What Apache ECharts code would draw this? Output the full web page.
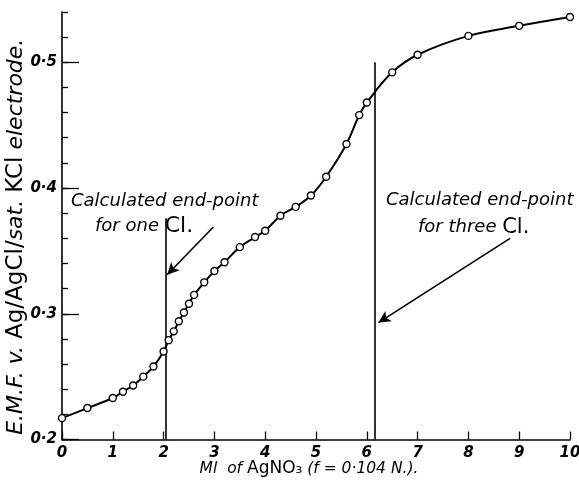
<!DOCTYPE html>
<html>
<head>
<meta charset="utf-8">
<script src="https://cdn.jsdelivr.net/npm/echarts@6/dist/echarts.min.js"></script>
<style>html,body{margin:0;padding:0;background:#fff;}#c{width:579px;height:482px;}</style>
</head>
<body>
<div id="c"></div>
<script>
// ml of AgNO3 added
const mlValues = [0, 0.5, 1.0, 1.2, 1.4, 1.6, 1.8, 2.0, 2.1, 2.2, 2.3, 2.4, 2.5, 2.6, 2.8, 3.0, 3.2, 3.5, 3.8, 4.0, 4.3, 4.6, 4.9, 5.2, 5.6, 5.85, 6.0, 6.5, 7.0, 8.0, 9.0, 10.0];
// E.M.F. (volts)
const emfValues = [0.217, 0.225, 0.233, 0.238, 0.243, 0.250, 0.258, 0.270, 0.279, 0.286, 0.294, 0.301, 0.308, 0.315, 0.325, 0.334, 0.341, 0.353, 0.361, 0.366, 0.378, 0.385, 0.394, 0.409, 0.435, 0.458, 0.468, 0.492, 0.506, 0.521, 0.529, 0.536];
const yMajorTicks = [0.2, 0.3, 0.4, 0.5];
const xTickValues = [0, 1, 2, 3, 4, 5, 6, 7, 8, 9, 10];
// calculated end-points: [ml, top of drawn line]
const endPointOne = [2.04, 0.376];
const endPointThree = [6.16, 0.500];
// arrows: [from, to]
const arrowOne = [[2.98, 0.369], [2.07, 0.331]];
const arrowThree = [[8.82, 0.360], [6.23, 0.293]];

const FONT = '"DejaVu Sans", sans-serif';
const chart = echarts.init(document.getElementById('c'), null, {renderer: 'canvas'});
const fmt = v => (Math.round(v * 10) / 10).toFixed(1).replace('.', '·');

const option = {
  animation: false,
  backgroundColor: '#fff',
  grid: {left: 62, right: 9, top: 12, bottom: 42.5, containLabel: false, outerBoundsMode: 'none'},
  xAxis: {
    type: 'value', min: 0, max: 10, interval: 1,
    name: '{i|Ml  of }{n|AgNO₃}{i| (f = 0·104 N.).}',
    nameLocation: 'middle', nameGap: 21, nameMoveOverlap: false,
    nameTextStyle: {
      padding: [0, 14, 0, 0],
      rich: {
        i: {fontFamily: FONT, fontStyle: 'italic', fontSize: 15.5, color: '#000'},
        n: {fontFamily: FONT, fontSize: 17, color: '#000'}
      }
    },
    axisLine: {lineStyle: {color: '#000', width: 1.6}},
    axisTick: {inside: true, length: 8, lineStyle: {color: '#000', width: 1.3}},
    axisLabel: {
      customValues: xTickValues,
      fontFamily: FONT, fontStyle: 'italic', fontWeight: 'bold', fontSize: 15, color: '#000', margin: 6,
      formatter: v => String(v)
    },
    splitLine: {show: false}
  },
  yAxis: [{
    type: 'value', min: 0.2, max: 0.54, interval: 0.02,
    name: '{i|E.M.F. v. }{n|Ag/AgCl/}{i|sat. }{n|KCl}{i| electrode.}',
    nameLocation: 'middle', nameRotate: 90, nameGap: 34, nameMoveOverlap: false,
    nameTextStyle: {
      padding: [0, 22, 0, 0],
      rich: {
        i: {fontFamily: FONT, fontStyle: 'italic', fontSize: 22, color: '#000'},
        n: {fontFamily: FONT, fontSize: 23, color: '#000'}
      }
    },
    axisLine: {show: true, lineStyle: {color: '#000', width: 1.6}},
    axisTick: {show: true, inside: true, length: 17, customValues: yMajorTicks, lineStyle: {color: '#000', width: 1.3}},
    axisLabel: {
      customValues: yMajorTicks,
      fontFamily: FONT, fontStyle: 'italic', fontWeight: 'bold', fontSize: 15, color: '#000', margin: 5,
      formatter: fmt
    },
    splitLine: {show: false}
  }, {
    type: 'value', min: 0.2, max: 0.54, interval: 0.02, position: 'left',
    axisLine: {show: false},
    axisTick: {show: true, inside: true, length: 6, lineStyle: {color: '#000', width: 1.3}},
    axisLabel: {show: false},
    splitLine: {show: false}
  }],
  series: [{
    type: 'line',
    data: mlValues.map((x, i) => [x, emfValues[i]]),
    smooth: 0.4,
    symbol: 'circle', symbolSize: 7,
    lineStyle: {color: '#000', width: 2},
    itemStyle: {color: '#fff', borderColor: '#000', borderWidth: 1.4},
    z: 5,
    markLine: {
      silent: true,
      symbol: ['none', 'none'],
      label: {show: false},
      lineStyle: {color: '#000', width: 1.6, type: 'solid'},
      data: [
        [{coord: [endPointOne[0], 0.2]}, {coord: [endPointOne[0], endPointOne[1]]}],
        [{coord: [endPointThree[0], 0.2]}, {coord: [endPointThree[0], endPointThree[1]]}],
        [{coord: arrowOne[0], symbol: 'none'}, {coord: arrowOne[1], symbol: 'arrow', symbolSize: [9, 12]}],
        [{coord: arrowThree[0], symbol: 'none'}, {coord: arrowThree[1], symbol: 'arrow', symbolSize: [9, 12]}]
      ]
    }
  }],
  graphic: [
    {type: 'text', left: 71, top: 192, style: {text: 'Calculated end-point', font: 'italic 18px ' + FONT, fill: '#000'}},
    {type: 'text', left: 95, top: 215, style: {
      text: '{i|for one }{n|Cl.}', rich: {
        i: {font: 'italic 18px ' + FONT, fill: '#000'},
        n: {font: '22px ' + FONT, fill: '#000'}
      }}},
    {type: 'text', left: 386, top: 191, style: {text: 'Calculated end-point', font: 'italic 18px ' + FONT, fill: '#000'}},
    {type: 'text', left: 418, top: 217, style: {
      text: '{i|for three }{n|Cl.}', rich: {
        i: {font: 'italic 18px ' + FONT, fill: '#000'},
        n: {font: '21px ' + FONT, fill: '#000'}
      }}}
  ]
};
chart.setOption(option);
</script>
</body>
</html>
